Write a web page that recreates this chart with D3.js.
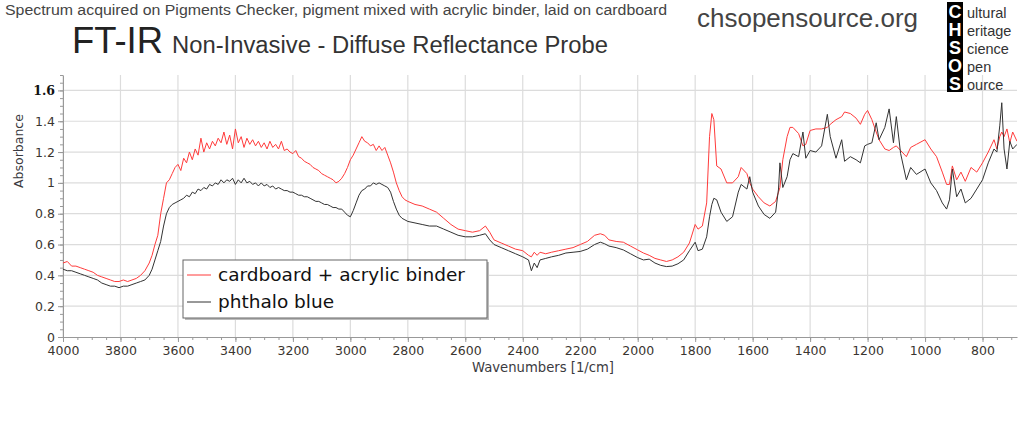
<!DOCTYPE html>
<html>
<head>
<meta charset="utf-8">
<script src="https://cdn.jsdelivr.net/npm/d3@7"></script>
<style>
  body { margin: 0; background: #fff; }
  svg { display: block; }
</style>
</head>
<body>
<svg id="chart" width="1024" height="436"></svg>
<script>
// ---- data ----
const wavenumbers = [
  4000,3985,3970,3955,3940,3925,3910,3895,3880,3865,3850,3835,3820,3805,3790,3775,3760,3745,3730,3715,
  3700,3690,3680,3670,3660,3650,3640,3630,3620,3610,3600,3590,3580,3570,3560,3550,3540,3530,3520,3510,
  3500,3490,3480,3470,3460,3450,3440,3430,3420,3410,3400,3390,3380,3370,3360,3350,3340,3330,3320,3310,
  3300,3290,3280,3270,3260,3250,3240,3230,3220,3210,3200,3190,3180,3170,3160,3150,3140,3130,3120,3110,
  3100,3090,3080,3070,3060,3050,3040,3030,3020,3010,3000,2990,2980,2970,2960,2950,2940,2930,2920,2910,
  2900,2890,2880,2870,2860,2850,2840,2830,2820,2810,2800,2775,2750,2725,2700,2675,2650,2625,2600,2575,
  2550,2530,2515,2500,2475,2450,2425,2400,2380,2370,2360,2350,2340,2320,2300,2275,2250,2225,2200,2175,
  2150,2130,2115,2100,2075,2050,2025,2000,1980,1960,1940,1920,1900,1880,1860,1840,1820,1800,1790,1775,
  1760,1750,1742,1735,1725,1710,1690,1670,1650,1640,1620,1610,1600,1580,1560,1540,1520,1510,1505,1495,
  1480,1470,1460,1440,1425,1415,1400,1380,1360,1340,1330,1310,1290,1280,1260,1240,1225,1210,1200,1185,
  1170,1160,1140,1125,1110,1100,1085,1065,1050,1030,1000,980,960,940,925,915,905,890,875,860,
  840,820,800,780,760,750,740,733,725,715,705,695,680
];

const cardboardBinder = [
  0.48,0.49,0.46,0.46,0.45,0.44,0.43,0.42,0.40,0.39,0.38,0.37,0.36,0.36,0.37,0.36,0.37,0.38,0.40,0.43,
  0.48,0.53,0.60,0.66,0.80,0.90,1.00,1.02,1.06,1.10,1.12,1.08,1.16,1.13,1.20,1.15,1.22,1.18,1.29,1.20,
  1.26,1.22,1.27,1.24,1.29,1.26,1.33,1.25,1.31,1.22,1.35,1.26,1.30,1.23,1.29,1.25,1.28,1.24,1.27,1.23,
  1.26,1.22,1.27,1.23,1.25,1.22,1.27,1.21,1.22,1.20,1.19,1.21,1.17,1.16,1.14,1.13,1.12,1.10,1.09,1.08,
  1.06,1.05,1.04,1.03,1.02,1.00,1.01,1.03,1.06,1.10,1.15,1.18,1.22,1.26,1.30,1.27,1.26,1.24,1.25,1.21,
  1.24,1.21,1.23,1.18,1.13,1.07,1.00,0.95,0.91,0.89,0.88,0.86,0.85,0.83,0.81,0.77,0.73,0.70,0.69,0.68,
  0.69,0.72,0.68,0.63,0.61,0.59,0.57,0.56,0.53,0.52,0.55,0.53,0.55,0.54,0.55,0.56,0.57,0.58,0.60,0.62,
  0.66,0.67,0.66,0.63,0.62,0.615,0.59,0.565,0.545,0.53,0.51,0.50,0.49,0.50,0.52,0.55,0.61,0.73,0.70,0.72,
  0.87,1.30,1.45,1.41,1.11,1.09,1.00,1.00,1.04,1.10,1.06,1.00,0.96,0.91,0.87,0.85,0.88,0.94,0.97,1.15,
  1.30,1.36,1.36,1.32,1.24,1.25,1.34,1.35,1.35,1.36,1.38,1.41,1.43,1.46,1.45,1.42,1.38,1.445,1.47,1.41,
  1.33,1.28,1.22,1.21,1.23,1.24,1.21,1.17,1.23,1.25,1.28,1.22,1.17,1.07,0.99,0.99,1.11,1.02,1.07,1.01,
  1.10,1.07,1.13,1.20,1.28,1.22,1.30,1.33,1.30,1.35,1.26,1.33,1.27
];

const phthaloBlue = [
  0.44,0.43,0.43,0.42,0.41,0.40,0.39,0.38,0.37,0.35,0.34,0.33,0.33,0.32,0.33,0.33,0.34,0.35,0.36,0.37,
  0.40,0.44,0.50,0.56,0.62,0.72,0.80,0.84,0.86,0.87,0.88,0.89,0.90,0.92,0.91,0.94,0.93,0.96,0.95,0.97,
  0.96,0.99,0.98,1.00,0.99,1.02,1.00,1.02,1.01,1.03,0.99,1.02,1.00,1.03,1.00,1.01,0.99,1.00,0.98,1.00,
  0.98,0.99,0.97,0.98,0.96,0.97,0.96,0.95,0.95,0.94,0.94,0.93,0.92,0.92,0.91,0.91,0.90,0.89,0.88,0.88,
  0.87,0.86,0.86,0.85,0.84,0.84,0.83,0.83,0.81,0.79,0.78,0.82,0.87,0.92,0.95,0.96,0.98,0.98,1.00,0.99,
  1.00,0.99,0.98,0.97,0.94,0.88,0.83,0.79,0.77,0.76,0.75,0.74,0.73,0.72,0.72,0.70,0.68,0.66,0.65,0.65,
  0.66,0.67,0.63,0.60,0.58,0.56,0.54,0.52,0.50,0.43,0.48,0.45,0.50,0.51,0.52,0.53,0.545,0.55,0.555,0.57,
  0.60,0.615,0.605,0.59,0.58,0.565,0.54,0.515,0.50,0.505,0.48,0.465,0.457,0.46,0.475,0.50,0.56,0.615,0.56,0.57,
  0.65,0.78,0.86,0.90,0.89,0.81,0.75,0.78,0.94,0.99,0.96,1.04,0.94,0.85,0.795,0.77,0.81,0.96,1.13,0.97,
  1.04,1.15,1.19,1.17,1.33,1.16,1.21,1.20,1.24,1.445,1.30,1.16,1.28,1.14,1.17,1.15,1.13,1.24,1.25,1.26,
  1.39,1.28,1.36,1.48,1.26,1.43,1.19,1.02,1.10,1.055,1.09,1.00,0.95,0.87,0.83,0.89,1.09,0.91,0.96,0.87,
  0.90,0.96,1.02,1.13,1.22,1.20,1.37,1.52,1.22,1.09,1.27,1.22,1.25
];

const seriesNames = ["cardboard + acrylic binder", "phthalo blue"];
const seriesColors = ["#ff3b3b", "#333333"];

const xTickValues = [4000,3800,3600,3400,3200,3000,2800,2600,2400,2200,2000,1800,1600,1400,1200,1000,800];
const yTickValues = [0,0.2,0.4,0.6,0.8,1,1.2,1.4,1.6];
const yTickLabels = ["0","0.2","0.4","0.6","0.8","1","1.2","1.4","1.6"];
const logoLetters = ["C","H","S","O","S"];
const logoWords = ["ultural","eritage","cience","pen","ource"];

// ---- layout ----
const svg = d3.select("#chart");
const plotL = 63, plotR = 1017, plotT = 75, plotB = 337;

const x = d3.scaleLinear().domain([4000, 680]).range([plotL, plotR]);
const y = d3.scaleLinear().domain([0, 1.7]).range([plotB, plotT]);

// grid
const grid = svg.append("g");
grid.selectAll("line.v").data(xTickValues).join("line")
  .attr("x1", d => x(d)).attr("x2", d => x(d))
  .attr("y1", plotT).attr("y2", plotB)
  .attr("stroke", "#dcdcdc").attr("stroke-width", 1.2);
grid.selectAll("line.h").data(yTickValues.slice(1)).join("line")
  .attr("x1", plotL).attr("x2", plotR)
  .attr("y1", d => y(d)).attr("y2", d => y(d))
  .attr("stroke", "#dcdcdc").attr("stroke-width", 1.2);

// minor ticks
const xMinor = d3.range(4000, 679, -50);
const yMinor = d3.range(0, 1.701, 0.05);

svg.append("g")
  .attr("transform", "translate(0," + plotB + ")")
  .call(d3.axisBottom(x).tickValues(xMinor).tickSize(3).tickFormat(""))
  .call(g => g.select(".domain").remove())
  .selectAll("line").attr("stroke", "#999");

svg.append("g")
  .attr("transform", "translate(" + plotL + ",0)")
  .call(d3.axisLeft(y).tickValues(yMinor).tickSize(3).tickFormat(""))
  .call(g => g.select(".domain").remove())
  .selectAll("line").attr("stroke", "#999");

// major axes
const xAxis = svg.append("g")
  .attr("transform", "translate(0," + plotB + ")")
  .call(d3.axisBottom(x).tickValues(xTickValues).tickSize(5).tickSizeOuter(0).tickPadding(4)
    .tickFormat(d3.format("d")));

const yAxis = svg.append("g")
  .attr("transform", "translate(" + plotL + ",0)")
  .call(d3.axisLeft(y).tickValues(yTickValues).tickSize(5).tickSizeOuter(0).tickPadding(3)
    .tickFormat((d, i) => yTickLabels[i]));

[xAxis, yAxis].forEach(a => {
  a.select(".domain").attr("stroke", "#999");
  a.selectAll(".tick line").attr("stroke", "#999");
  a.selectAll("text")
    .attr("font-family", "DejaVu Sans, Verdana, sans-serif")
    .attr("font-size", 12.5)
    .attr("fill", "#3a3530");
});
yAxis.selectAll("text").filter(d => d === 1.6)
  .attr("font-family", "DejaVu Serif, serif")
  .attr("font-weight", "bold")
  .attr("font-size", 12.5)
  .attr("fill", "#111");

// axis titles
svg.append("text")
  .attr("transform", "translate(23,151) rotate(-90)")
  .attr("text-anchor", "middle")
  .attr("font-family", "DejaVu Sans, Verdana, sans-serif")
  .attr("font-size", 12.5)
  .attr("fill", "#3a3a40")
  .text("Absorbance");

svg.append("text")
  .attr("x", 543).attr("y", 372)
  .attr("text-anchor", "middle")
  .attr("font-family", "DejaVu Sans, Verdana, sans-serif")
  .attr("font-size", 13.2)
  .attr("fill", "#3a3a40")
  .text("Wavenumbers [1/cm]");

// spectra
svg.append("clipPath").attr("id", "plotclip")
  .append("rect").attr("x", plotL).attr("y", plotT - 20).attr("width", plotR - plotL).attr("height", plotB - plotT + 20);

const line = d3.line()
  .x((d, i) => x(wavenumbers[i]))
  .y(d => y(d));

const allSeries = [cardboardBinder, phthaloBlue];
svg.append("g").attr("clip-path", "url(#plotclip)")
  .selectAll("path").data(allSeries).join("path")
  .attr("d", d => line(d))
  .attr("fill", "none")
  .attr("stroke", (d, i) => seriesColors[i])
  .attr("stroke-width", 1)
  .attr("stroke-linejoin", "round");

// legend
const lg = svg.append("g").attr("transform", "translate(183,260)");
lg.append("rect").attr("x", 2).attr("y", 2).attr("width", 304).attr("height", 58).attr("fill", "#bbb");
lg.append("rect").attr("x", 0).attr("y", 0).attr("width", 304).attr("height", 58)
  .attr("fill", "#fff").attr("stroke", "#666").attr("stroke-width", 1);
seriesNames.forEach((name, i) => {
  const cy = 15 + i * 27;
  lg.append("line").attr("x1", 4).attr("x2", 28).attr("y1", cy).attr("y2", cy)
    .attr("stroke", seriesColors[i]).attr("stroke-width", 1);
  lg.append("text").attr("x", 35).attr("y", cy + 6)
    .attr("font-family", "DejaVu Sans, Verdana, sans-serif")
    .attr("font-size", 18.5)
    .attr("fill", "#111")
    .text(name);
});

// titles
svg.append("text")
  .attr("x", 5).attr("y", 15)
  .attr("font-family", "Liberation Sans, Arial, sans-serif")
  .attr("font-size", 15.5)
  .attr("fill", "#444")
  .attr("textLength", 662).attr("lengthAdjust", "spacingAndGlyphs")
  .text("Spectrum acquired on Pigments Checker, pigment mixed with acrylic binder, laid on cardboard");

svg.append("text")
  .attr("x", 72).attr("y", 53)
  .attr("font-family", "Liberation Sans, Arial, sans-serif")
  .attr("font-size", 36)
  .attr("fill", "#222")
  .attr("textLength", 91).attr("lengthAdjust", "spacingAndGlyphs")
  .text("FT-IR");

svg.append("text")
  .attr("x", 172).attr("y", 53)
  .attr("font-family", "Liberation Sans, Arial, sans-serif")
  .attr("font-size", 23)
  .attr("fill", "#333")
  .attr("textLength", 436).attr("lengthAdjust", "spacingAndGlyphs")
  .text("Non-Invasive - Diffuse Reflectance Probe");

svg.append("text")
  .attr("x", 697).attr("y", 27)
  .attr("font-family", "Liberation Sans, Arial, sans-serif")
  .attr("font-size", 25)
  .attr("fill", "#444")
  .attr("textLength", 221).attr("lengthAdjust", "spacingAndGlyphs")
  .text("chsopensource.org");

// logo
const logo = svg.append("g");
logo.append("rect").attr("x", 947).attr("y", 2).attr("width", 16).attr("height", 90).attr("fill", "#000");
logoLetters.forEach((c, i) => {
  logo.append("text").attr("x", 955).attr("y", 18 + i * 18)
    .attr("text-anchor", "middle")
    .attr("font-family", "Liberation Sans, Arial, sans-serif")
    .attr("font-weight", "bold").attr("font-size", 18)
    .attr("fill", "#fff").text(c);
  logo.append("text").attr("x", 967).attr("y", 18 + i * 18)
    .attr("font-family", "Liberation Sans, Arial, sans-serif")
    .attr("font-size", 14.5)
    .attr("fill", "#333").text(logoWords[i]);
});
</script>
</body>
</html>
